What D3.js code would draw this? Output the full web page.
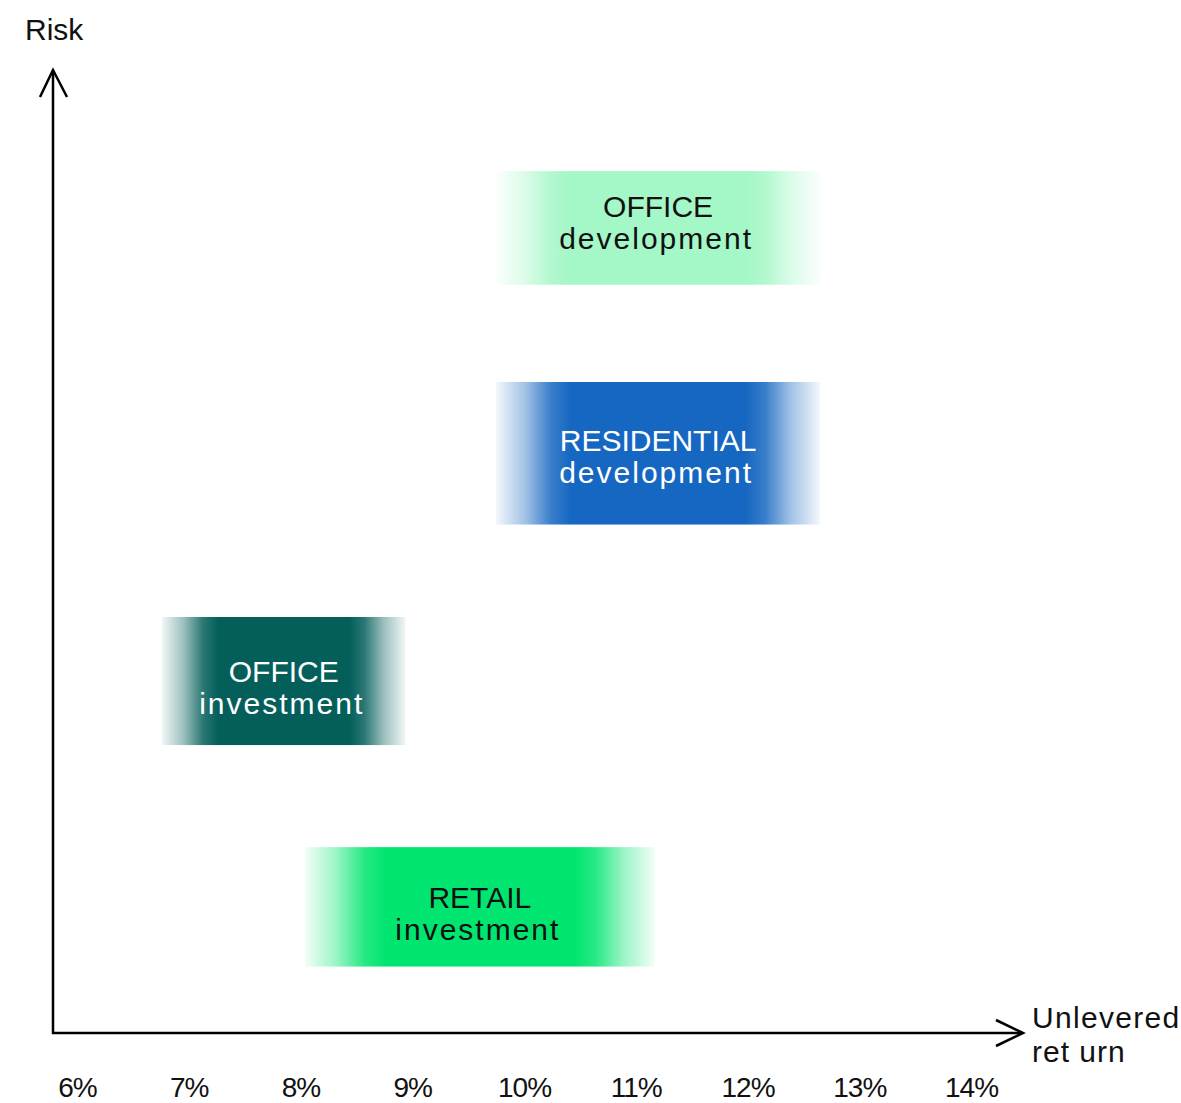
<!DOCTYPE html>
<html>
<head>
<meta charset="utf-8">
<script src="https://cdn.jsdelivr.net/npm/d3@7"></script>
<style>
  body { margin: 0; background: #fff; }
  svg { display: block; font-family: "Liberation Sans", Arial, sans-serif; }
</style>
</head>
<body>
<div id="chart"></div>
<script>
// ---------------- DATA ----------------
const xTicks = [6, 7, 8, 9, 10, 11, 12, 13, 14];           // unlevered return, %
const categories = ["OFFICE dev", "RESIDENTIAL dev", "OFFICE inv", "RETAIL inv"];
const titleLines = ["OFFICE", "RESIDENTIAL", "OFFICE", "RETAIL"];
const subLines = ["development", "development", "investment", "investment"];
const returnLow = [9.75, 9.75, 6.76, 8.04];
const returnHigh = [12.65, 12.65, 8.94, 11.17];
const riskLow = [7.77, 5.28, 2.99, 0.69];                    // arbitrary risk units 0-10
const riskHigh = [8.95, 6.76, 4.32, 1.93];
const labelRisk = [8.47, 6.04, 3.64, 1.30];                 // baseline of first text line
const fills = ["#a4f7c6", "#1667c1", "#045f5b", "#00e56f"];
const textFills = ["#111", "#fff", "#fff", "#111"];

const width = 1181, height = 1103;

const svg = d3.select("#chart")
  .append("svg")
  .attr("width", width)
  .attr("height", height);

// Scales
const x = d3.scaleLinear()
  .domain([6, 14])
  .range([77, 971]);

const y = d3.scaleLinear()
  .domain([0, 10])
  .range([1033, 70]);

// Gradients: fade to white on left and right edges
const defs = svg.append("defs");
categories.forEach((c, i) => {
  const g = defs.append("linearGradient")
    .attr("id", "grad" + i)
    .attr("x1", "0%").attr("x2", "100%")
    .attr("y1", "0%").attr("y2", "0%");
  [[0, 0.05], [0.09, 0.4], [0.17, 0.85], [0.23, 1], [0.77, 1], [0.83, 0.85], [0.91, 0.4], [1, 0.05]].forEach(s => {
    g.append("stop")
      .attr("offset", s[0])
      .attr("stop-color", fills[i])
      .attr("stop-opacity", s[1]);
  });
});

// Boxes
const boxes = svg.selectAll("g.box")
  .data(categories)
  .join("g")
  .attr("class", "box");

boxes.append("rect")
  .attr("x", (d, i) => x(returnLow[i]))
  .attr("y", (d, i) => y(riskHigh[i]))
  .attr("width", (d, i) => x(returnHigh[i]) - x(returnLow[i]))
  .attr("height", (d, i) => y(riskLow[i]) - y(riskHigh[i]))
  .attr("fill", (d, i) => `url(#grad${i})`);

boxes.append("text")
  .attr("x", (d, i) => (x(returnLow[i]) + x(returnHigh[i])) / 2)
  .attr("y", (d, i) => y(labelRisk[i]))
  .attr("text-anchor", "middle")
  .style("font-size", "30px")
  .style("fill", (d, i) => textFills[i])
  .text((d, i) => titleLines[i]);

boxes.append("text")
  .attr("x", (d, i) => (x(returnLow[i]) + x(returnHigh[i])) / 2 - 2)
  .attr("y", (d, i) => y(labelRisk[i]) + 32)
  .attr("text-anchor", "middle")
  .style("font-size", "30px")
  .style("letter-spacing", "2px")
  .style("fill", (d, i) => textFills[i])
  .text((d, i) => subLines[i]);

// Axes with open arrowheads
const axisColor = "#000";
const x0 = 53, y0 = y(0), xEnd = 1023, yEnd = y(10);

svg.append("path")
  .attr("d", d3.line()([[x0, yEnd], [x0, y0], [xEnd, y0]]))
  .attr("fill", "none")
  .attr("stroke", axisColor)
  .attr("stroke-width", 2.5);

svg.append("path")
  .attr("d", d3.line()([[x0 - 13, yEnd + 27], [x0, yEnd], [x0 + 14, yEnd + 27]]))
  .attr("fill", "none")
  .attr("stroke", axisColor)
  .attr("stroke-width", 2.5);

svg.append("path")
  .attr("d", d3.line()([[xEnd - 27, y0 - 13], [xEnd, y0], [xEnd - 27, y0 + 13]]))
  .attr("fill", "none")
  .attr("stroke", axisColor)
  .attr("stroke-width", 2.5);

// Tick labels
const xAxis = svg.append("g")
  .attr("transform", `translate(0,${y0})`)
  .call(d3.axisBottom(x).tickValues(xTicks).tickSize(0).tickPadding(44).tickFormat(d => d + "%"));
xAxis.select(".domain").remove();
xAxis.selectAll("text")
  .style("font-family", "'Liberation Sans', Arial, sans-serif")
  .style("font-size", "28px")
  .style("letter-spacing", "-1px")
  .attr("fill", "#111");

// Axis titles
svg.append("text")
  .attr("x", 25)
  .attr("y", 40)
  .style("font-size", "30px")
  .style("fill", "#111")
  .text("Risk");

svg.append("text")
  .attr("x", 1032)
  .attr("y", 1028)
  .style("font-size", "30px")
  .style("letter-spacing", "1.3px")
  .style("fill", "#111")
  .text("Unlevered");

svg.append("text")
  .attr("x", 1032)
  .attr("y", 1062)
  .style("font-size", "30px")
  .style("letter-spacing", "1px")
  .style("fill", "#111")
  .text("ret urn");
</script>
</body>
</html>
